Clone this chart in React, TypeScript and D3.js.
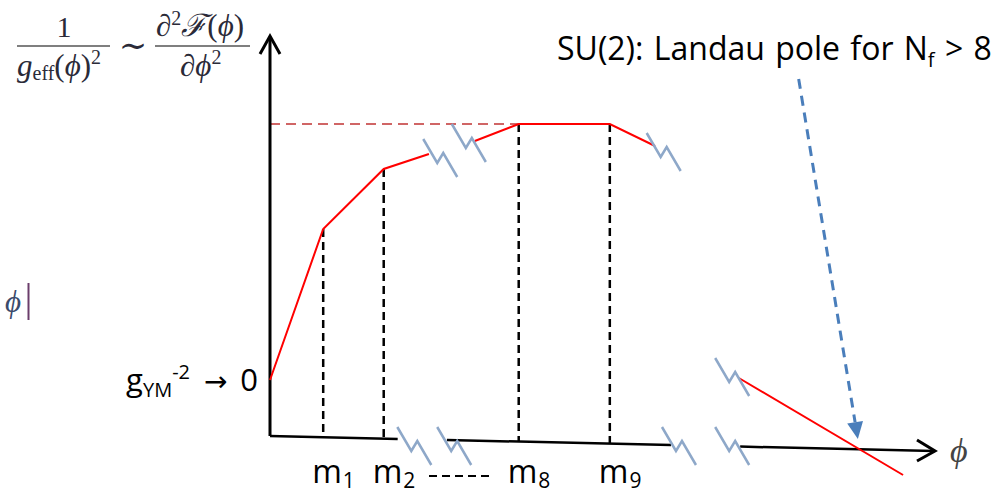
import React from 'react';
import * as d3 from 'd3';

// Schematic units: phi along x (0..100), coupling 1/g^2 along y (0..100)
const curveLow = [[0, 14], [8, 51.75], [17.1, 66.75], [23.9, 70.5]];
const curveMid = [[30.8, 73.75], [37.4, 78], [51.1, 78], [57.9, 72.5]];
const curveHigh = [[70.5, 14.5], [95.2, -9.75]];
const plateauLevel = 78;
const plateauEnd = 37.4;
const massKinks = [
    {sub: '1', x: 8, y: 51.75},
    {sub: '2', x: 17.1, y: 66.75},
    {sub: '8', x: 37.4, y: 78},
    {sub: '9', x: 51.1, y: 78},
];
const axisSpans = [[0, 19.2], [26.6, 60.3], [70.7, 100]];
const axisTilt = -0.0375;
const breakMarks = [
    [25.6, 69.5], [29.9, 73.25], [59.2, 71], [69.5, 14.75],
    [21.7, -2.5], [27.7, -2.5], [61.5, -2.5], [69.5, -2.5],
];
const polePointer = [[79.5, 89.25], [88.4, -0.75]];
const poleText = 'SU(2): Landau pole for N';

const W = 1002, H = 494;
const SANS = '"Open Sans", "Noto Sans", sans-serif';
const SERIF = '"Liberation Serif", "DejaVu Serif", serif';
const MATH = '#2a2a38';

export default function App() {
    const xs = d3.scaleLinear().domain([0, 100]).range([270, 935]);
    const ys = d3.scaleLinear().domain([0, 100]).range([436, 36]);
    const axisY = (x: number) => axisTilt * x;

    const line = d3.line<number[]>()
        .x(d => xs(d[0]))
        .y(d => ys(d[1]));

    // blue pointer head
    const p0 = [xs(polePointer[0][0]), ys(polePointer[0][1])];
    const p1 = [xs(polePointer[1][0]), ys(polePointer[1][1])];
    const len = Math.hypot(p1[0] - p0[0], p1[1] - p0[1]);
    const ux = (p1[0] - p0[0]) / len, uy = (p1[1] - p0[1]) / len;
    const headL = 17, headW = 8;
    const base = [p1[0] - ux * headL, p1[1] - uy * headL];
    const head = [
        [p1[0], p1[1]],
        [base[0] - uy * headW, base[1] + ux * headW],
        [base[0] + uy * headW, base[1] - ux * headW],
    ];

    const xEnd = [xs(100), ys(axisY(100))];
    const yTop = [xs(0), ys(100)];
    const labelBase = ys(-12);

    return (
        <svg width={W} height={H} style={{position: 'absolute', left: 0, top: 0, background: '#fff'}}>
            {/* reference formula */}
            <g fill={MATH} fontFamily={SERIF}>
                <text x={64} y={37} fontSize={30} textAnchor="middle">1</text>
                <line x1={17} x2={110} y1={46} y2={46} stroke="#555" strokeWidth={1.5}/>
                <text x={17} y={76} fontSize={31}>
                    <tspan fontStyle="italic">g</tspan>
                    <tspan fontSize={20} dy={4}>eff</tspan>
                    <tspan dy={-4}>(</tspan>
                    <tspan fontStyle="italic">ϕ</tspan>
                    <tspan>)</tspan>
                    <tspan fontSize={20} dy={-12}>2</tspan>
                </text>
                <text x={133} y={57} fontSize={34} textAnchor="middle">∼</text>
                <text x={156} y={36} fontSize={31}>
                    <tspan fontStyle="italic">∂</tspan>
                    <tspan fontSize={20} dy={-11}>2</tspan>
                    <tspan dy={11} fontStyle="italic">ℱ</tspan>
                    <tspan>(</tspan>
                    <tspan fontStyle="italic">ϕ</tspan>
                    <tspan>)</tspan>
                </text>
                <line x1={155} x2={250} y1={46} y2={46} stroke="#555" strokeWidth={1.5}/>
                <text x={180} y={76} fontSize={31}>
                    <tspan fontStyle="italic">∂ϕ</tspan>
                    <tspan fontSize={20} dy={-12}>2</tspan>
                </text>
            </g>

            {/* stray phi on the left */}
            <text x={5} y={312} fontSize={31} fontFamily={SERIF} fontStyle="italic" fill="#3b4a6b">ϕ</text>
            <line x1={28.5} x2={28.5} y1={283} y2={320} stroke="#6b3d6b" strokeWidth={2}/>

            {/* plateau reference */}
            <line x1={xs(0)} x2={xs(plateauEnd)} y1={ys(plateauLevel)} y2={ys(plateauLevel)}
                  stroke="#d06565" strokeWidth={2} strokeDasharray="10,6"/>

            {/* mass thresholds */}
            {massKinks.map(k => (
                <line key={k.sub} x1={xs(k.x)} x2={xs(k.x)} y1={ys(k.y)} y2={ys(axisY(k.x))}
                      stroke="#000" strokeWidth={2.5} strokeDasharray="8,5"/>
            ))}

            {/* axes */}
            <line x1={xs(0)} x2={yTop[0]} y1={ys(0)} y2={yTop[1] + 1} stroke="#000" strokeWidth={3}/>
            <polyline points={`${yTop[0] - 10},${yTop[1] + 18} ${yTop[0]},${yTop[1]} ${yTop[0] + 10},${yTop[1] + 18}`}
                      fill="none" stroke="#000" strokeWidth={3}/>
            {axisSpans.map((s, i) => (
                <line key={i} x1={xs(s[0])} x2={xs(s[1]) - (i === 2 ? 1 : 0)} y1={ys(axisY(s[0]))} y2={ys(axisY(s[1]))}
                      stroke="#000" strokeWidth={2.5}/>
            ))}
            <polyline points={`${xEnd[0] - 18},${xEnd[1] - 11} ${xEnd[0]},${xEnd[1]} ${xEnd[0] - 18},${xEnd[1] + 10}`}
                      fill="none" stroke="#000" strokeWidth={3}/>
            <text x={950} y={462} fontSize={34} fontFamily={SERIF} fontStyle="italic" fill="#444">ϕ</text>

            {/* coupling curve */}
            {[curveLow, curveMid, curveHigh].map((c, i) => (
                <path key={i} d={line(c) || ''} fill="none" stroke="#ff0000" strokeWidth={2}/>
            ))}

            {/* axis / curve breaks */}
            {breakMarks.map((b, i) => {
                const cx = xs(b[0]), cy = ys(b[1]);
                return (
                    <polyline key={i}
                              points={`${cx - 17},${cy - 19} ${cx - 3},${cy + 5} ${cx + 3},${cy - 5} ${cx + 17},${cy + 19}`}
                              fill="none" stroke="#8ea8c9" strokeWidth={2.5}/>
                );
            })}

            {/* Landau pole pointer */}
            <line x1={p0[0]} y1={p0[1]} x2={base[0]} y2={base[1]}
                  stroke="#4a7ebb" strokeWidth={3} strokeDasharray="10,7"/>
            <polygon points={head.map(p => p.join(',')).join(' ')} fill="#4a7ebb"/>

            {/* labels */}
            <g fontFamily={SANS} fill="#000">
                {massKinks.map(k => (
                    <text key={k.sub} x={xs(k.x) - 11} y={labelBase - 1} fontSize={32}>
                        m<tspan fontSize={21} dy={5} dx={1}>{k.sub}</tspan>
                    </text>
                ))}
                <line x1={429} x2={491} y1={476} y2={476} stroke="#000" strokeWidth={2} strokeDasharray="8,5"/>
                <text x={xs(0) - 12} y={ys(14) + 11} fontSize={31} textAnchor="end">
                    g<tspan fontSize={20} dy={6}>YM</tspan>
                    <tspan fontSize={20} dy={-18}>-2</tspan>
                    <tspan dy={12} dx={5} fontFamily="DejaVu Sans" fontSize={28}> → </tspan>
                    <tspan dx={4}>0</tspan>
                </text>
                <text x={557} y={60} fontSize={32} wordSpacing={2}>
                    {poleText}
                    <tspan fontSize={20} dy={7}>f</tspan>
                    <tspan dy={-7}> &gt; 8</tspan>
                </text>
            </g>
        </svg>
    );
}
